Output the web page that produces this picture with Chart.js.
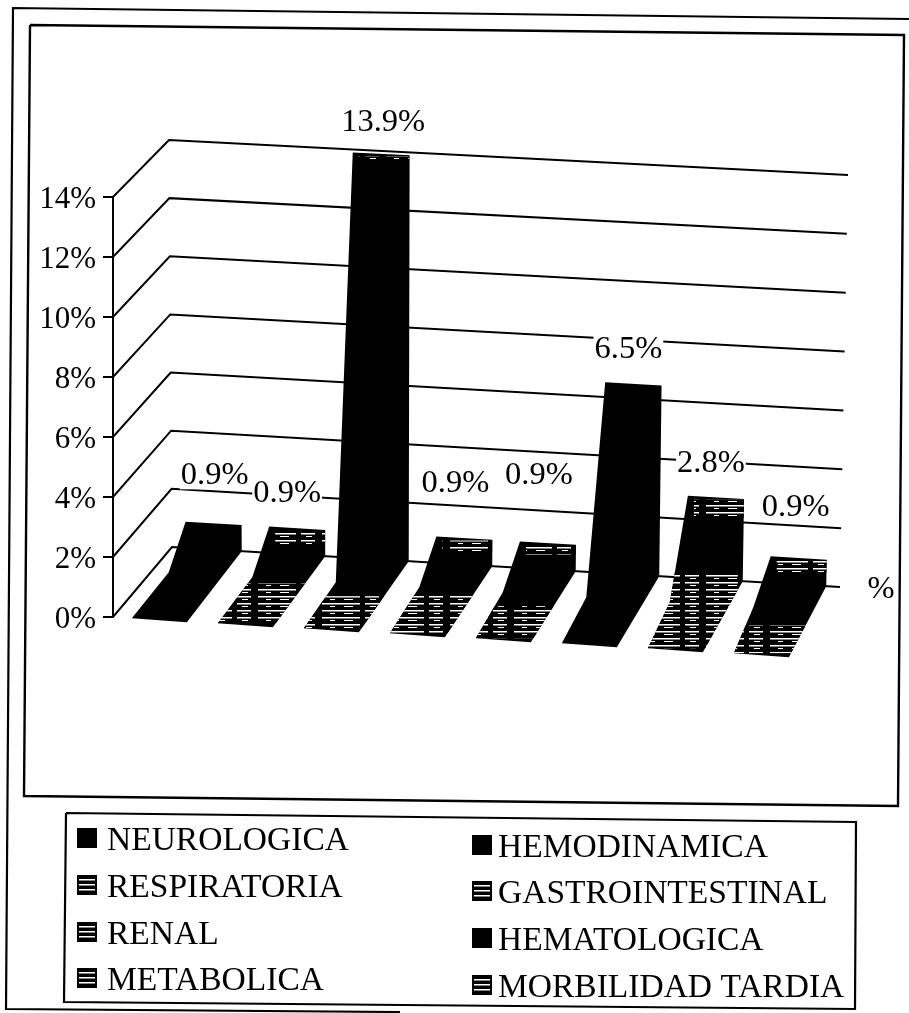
<!DOCTYPE html>
<html>
<head>
<meta charset="utf-8">
<style>html,body{margin:0;padding:0;background:#fff}canvas{display:block}</style>
<script src="https://cdn.jsdelivr.net/npm/chart.js@4/dist/chart.umd.min.js"></script>
</head>
<body>
<canvas id="c" width="909" height="1013"></canvas>
<script>
const categories = ['%'];
const seriesNames = ['NEUROLOGICA','RESPIRATORIA','RENAL','METABOLICA','HEMODINAMICA','GASTROINTESTINAL','HEMATOLOGICA','MORBILIDAD TARDIA'];
const seriesValues = [0.9, 0.9, 13.9, 0.9, 0.9, 6.5, 2.8, 0.9];
const yMax = 14;
const yStep = 2;

// styling only
const FONT = '"Liberation Serif","Times New Roman",serif';
const labelNudges = [[1,-48],[-10,-35],[2,-31],[-9,-55],[-9,-68],[-5,-34],[-5,-34],[-3,-51]];
const frontHatch = [0,42,34,40,34,0,78,30];
const topHatch = [0,14,3,12,9,0,18,12];
const swatchHatch = [0,1,1,1,0,1,0,1];
const legendSlots = [[77,838],[77,885],[77,932],[77,978],[472,845],[472,891],[472,938],[472,985]];

function stripes(){
  const t=document.createElement('canvas');t.width=64;t.height=7;
  const g=t.getContext('2d');
  g.fillStyle='#000';g.fillRect(0,0,64,7);
  g.fillStyle='#fff';
  g.fillRect(2,1,38,1.5);g.fillRect(45,1,14,1.5);
  g.fillRect(10,4,5,1);g.fillRect(24,4,9,1);g.fillRect(50,4,6,1);
  return t;
}
const stripeTile=stripes();

const wall={x0:172,x1:840,yl0:547,yl1:140,yr0:587,yr1:175,lean0:-3,lean1:8};
function wallMap(x,y,area){
  const u=(x-wall.x0)/(wall.x1-wall.x0), v=(area.bottom-y)/(area.bottom-area.top);
  const left=wall.yl0+(wall.yl1-wall.yl0)*v, right=wall.yr0+(wall.yr1-wall.yr0)*v;
  return {x:x+v*(wall.lean0+(wall.lean1-wall.lean0)*u), y:left+(right-left)*u};
}
function line(ctx,pts,w){
  ctx.beginPath();pts.forEach((p,i)=>i?ctx.lineTo(p[0],p[1]):ctx.moveTo(p[0],p[1]));
  ctx.lineWidth=w;ctx.strokeStyle='#000';ctx.stroke();
}
function poly(ctx,pts,w){line(ctx,pts.concat([pts[0]]),w);}

const scene={
  id:'scene',
  beforeDraw(chart){
    const ctx=chart.ctx;ctx.save();
    ctx.fillStyle='#fff';ctx.fillRect(0,0,chart.width,chart.height);
    line(ctx,[[400,1012],[6,1009],[13,8],[909,19]],2.2);
    poly(ctx,[[30,25],[904,35],[898,806],[24,796]],2.4);
    poly(ctx,[[66,813],[856,822],[855,1009],[64,1002]],2.2);
    ctx.restore();
  },
  beforeDatasetsDraw(chart){
    const ctx=chart.ctx,y=chart.scales.y,a=chart.chartArea;ctx.save();
    line(ctx,[[113,y.getPixelForValue(yMax)],[113,y.getPixelForValue(0)]],2);
    y.ticks.forEach(t=>{
      const py=y.getPixelForValue(t.value);
      const l=wallMap(a.left,py,a), r=wallMap(a.right,py,a);
      line(ctx,[[103,py],[113,py],[l.x,l.y],[r.x,r.y]],2);
    });
    ctx.restore();
  },
  beforeDatasetDraw(chart,args){
    const ctx=chart.ctx,a=chart.chartArea,i=args.index;
    const el=chart.getDatasetMeta(i).data[0];
    const xL=el.x-el.width/2,xR=el.x+el.width/2;
    const TL=wallMap(xL,el.y,a),TR=wallMap(xR,el.y,a),J=wallMap(xR,el.base,a);
    const dx=-57+0.03*(J.x-wall.x0),dy=71;
    const FR={x:J.x+dx,y:J.y+dy},FL={x:FR.x-55,y:FR.y-4},K={x:J.x-el.width-17,y:J.y+21};
    ctx.save();
    ctx.beginPath();
    [TL,TR,J,FR,FL,K].forEach((p,n)=>n?ctx.lineTo(p.x,p.y):ctx.moveTo(p.x,p.y));
    ctx.closePath();
    ctx.fillStyle='#000';ctx.fill();ctx.clip();
    ctx.fillStyle=ctx.createPattern(stripeTile,'repeat');
    if(frontHatch[i]) ctx.fillRect(FL.x-10,FR.y-frontHatch[i]-2,100,frontHatch[i]-2);
    if(topHatch[i]) ctx.fillRect(TL.x+6,TL.y+4,50,topHatch[i]);
    ctx.restore();
    return false;
  },
  afterDatasetsDraw(chart){
    const ctx=chart.ctx,a=chart.chartArea;ctx.save();
    ctx.font='32.5px '+FONT;ctx.textAlign='center';ctx.textBaseline='middle';
    seriesValues.forEach((v,i)=>{
      const el=chart.getDatasetMeta(i).data[0];
      const top=wallMap(el.x,el.y,a);
      const lx=top.x+labelNudges[i][0],ly=top.y+labelNudges[i][1];
      const s=v.toFixed(1)+'%',w=ctx.measureText(s).width;
      ctx.fillStyle='#fff';ctx.fillRect(lx-w/2-1,ly-14,w+2,28);
      ctx.fillStyle='#000';ctx.fillText(s,lx,ly);
    });
    ctx.fillText(categories[0],881,589);
    // legend
    ctx.textAlign='left';ctx.font='33.5px '+FONT;
    seriesNames.forEach((n,i)=>{
      const [sx,sy]=legendSlots[i];
      ctx.fillStyle='#000';ctx.fillRect(sx,sy-10,20,20);
      if(swatchHatch[i]){ctx.fillStyle='#fff';for(let k=0;k<3;k++)ctx.fillRect(sx+2,sy-6+k*5,16,1.5);}
      ctx.fillStyle='#000';ctx.fillText(n,sx+(i<4?30:26),sy+3);
    });
    ctx.restore();
  }
};

new Chart(document.getElementById('c'),{
  type:'bar',
  data:{labels:categories,datasets:seriesNames.map((n,i)=>({label:n,data:[seriesValues[i]],backgroundColor:'#000'}))},
  options:{
    responsive:false,animation:false,
    layout:{padding:{top:197,bottom:396,right:69,left:0}},
    plugins:{legend:{display:false},tooltip:{enabled:false}},
    datasets:{bar:{categoryPercentage:1,barPercentage:0.67}},
    scales:{
      x:{ticks:{display:false},grid:{display:false},border:{display:false},afterFit(s){s.height=0;}},
      y:{min:0,max:yMax,
        ticks:{stepSize:yStep,padding:68,labelOffset:3,color:'#000',font:{family:FONT,size:31},callback:v=>v+'%'},
        grid:{display:false},border:{display:false},afterFit(s){s.width=172;}}
    }
  },
  plugins:[scene]
});
</script>
</body>
</html>
